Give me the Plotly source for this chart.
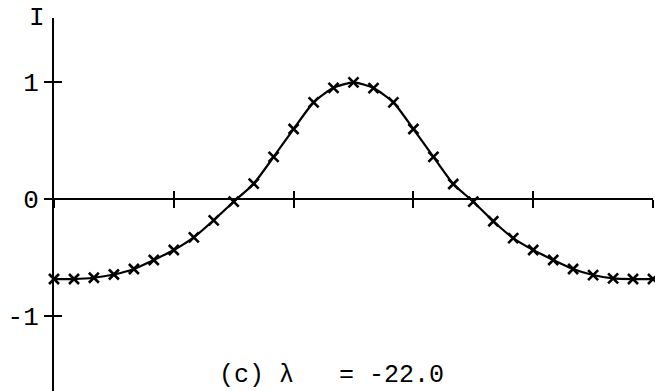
import plotly.graph_objects as go

# Sample positions along the horizontal axis (31 samples, step 1/6)
x_vals = [0.000, 0.167, 0.333, 0.500, 0.667, 0.833, 1.000, 1.167, 1.333, 1.500,
          1.667, 1.833, 2.000, 2.167, 2.333, 2.500, 2.667, 2.833, 3.000, 3.167,
          3.333, 3.500, 3.667, 3.833, 4.000, 4.167, 4.333, 4.500, 4.667, 4.833, 5.000]

# Intensity I at each sample
i_vals = [-0.684, -0.684, -0.673, -0.645, -0.598, -0.521, -0.436, -0.328, -0.182, -0.023,
          0.131, 0.360, 0.598, 0.826, 0.950, 0.997, 0.948, 0.826, 0.598, 0.360,
          0.128, -0.023, -0.190, -0.334, -0.436, -0.521, -0.598, -0.650, -0.678, -0.684, -0.684]

x_ticks = [0, 1, 2, 3, 4, 5]
y_ticks = [-1, 0, 1]
y_tick_text = ["-1", "0", "1"]

caption = "(c) λ   = -22.0"
y_title = "I"

FONT = "Liberation Mono"
INK = "black"

x_range = [0, 5]
y_range = [-1.641, 1.547]
zero_pos = (0 - y_range[0]) / (y_range[1] - y_range[0])


def to_paper_x(v):
    return (v - x_range[0]) / (x_range[1] - x_range[0])


def to_paper_y(v):
    return (v - y_range[0]) / (y_range[1] - y_range[0])


fig = go.Figure()
fig.add_trace(go.Scatter(
    x=x_vals, y=i_vals,
    mode="lines+markers",
    line=dict(color=INK, width=2.2, shape="spline", smoothing=0.6),
    marker=dict(symbol="x-thin-open", size=10, color=INK,
                line=dict(color=INK, width=2.6)),
    cliponaxis=False,
    showlegend=False,
    hoverinfo="skip",
))
# Same curve on the overlay axes (invisible) so their inward ticks render
fig.add_trace(go.Scatter(
    x=x_vals, y=i_vals, xaxis="x2", yaxis="y2",
    mode="lines", line=dict(width=0), opacity=0,
    showlegend=False, hoverinfo="skip",
))

common_x = dict(range=x_range, tickvals=x_ticks, ticklen=8, tickwidth=2,
                tickcolor=INK, showgrid=False, zeroline=False,
                showticklabels=False, anchor="free", position=zero_pos)
fig.update_layout(
    width=655, height=391,
    margin=dict(l=54, r=2, t=18, b=0),
    paper_bgcolor="white", plot_bgcolor="white",
    font=dict(family=FONT, size=26, color=INK),
    xaxis=dict(**common_x, ticks="outside", showline=True,
               linecolor=INK, linewidth=2),
    xaxis2=dict(**common_x, ticks="inside", overlaying="x", showline=False),
    yaxis=dict(range=y_range, tickvals=y_ticks, ticktext=y_tick_text,
               ticks="outside", ticklen=8, tickwidth=2, tickcolor=INK,
               showline=True, linecolor=INK, linewidth=2,
               showgrid=False, zeroline=False, ticklabelstandoff=0,
               tickfont=dict(family=FONT, size=26, color=INK)),
    yaxis2=dict(range=y_range, tickvals=[-1, 1], ticks="inside", ticklen=8,
                tickwidth=2, tickcolor=INK, overlaying="y", anchor="x2",
                side="left", showline=False, showgrid=False, zeroline=False,
                showticklabels=False),
    annotations=[
        dict(text=y_title, x=to_paper_x(-0.142), y=1.0,
             xref="paper", yref="paper",
             xanchor="center", yanchor="middle", showarrow=False,
             font=dict(family=FONT, size=26, color=INK)),
        dict(text=caption, x=to_paper_x(1.36), y=to_paper_y(-1.51),
             xref="paper", yref="paper",
             xanchor="left", yanchor="middle", showarrow=False,
             font=dict(family=FONT, size=25, color=INK)),
    ],
)

fig.write_html("out.html")
